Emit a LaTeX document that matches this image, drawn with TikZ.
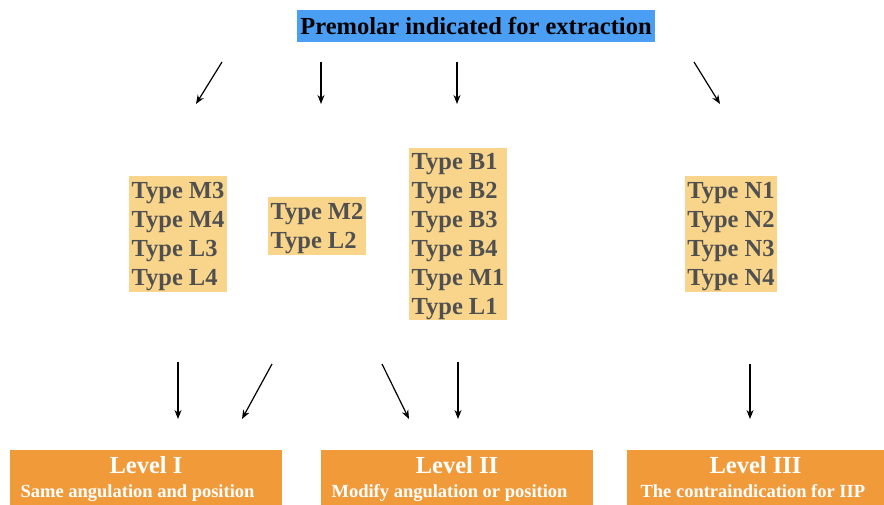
\documentclass[tikz,border=0pt]{standalone}
\usepackage{fontspec}
\setmainfont{Liberation Serif}
\usetikzlibrary{arrows.meta}
\definecolor{topblue}{HTML}{4A9FF5}
\definecolor{typefill}{HTML}{F8D58A}
\definecolor{typetext}{HTML}{505050}
\definecolor{levelfill}{HTML}{F09A3A}

\begin{document}
\begin{tikzpicture}[x=1pt,y=-1pt,->,>={Stealth[length=9pt,width=7pt]},line width=1.2pt,
  top node/.style={fill=topblue,inner sep=0pt,minimum width=358pt,minimum height=32pt,
    font=\fontsize{24.5}{28}\selectfont\bfseries},
  type node/.style={fill=typefill,inner sep=0pt,align=left,text=typetext,text depth=0pt,
    font=\fontsize{24.5}{29}\selectfont\bfseries},
  level node/.style={fill=levelfill,inner sep=0pt,minimum height=55pt},
  level text/.style={font=\fontsize{24.5}{26}\selectfont\bfseries,text=white,anchor=base,inner sep=0pt},
  sub text/.style={font=\fontsize{18.5}{20}\selectfont\bfseries,text=white,anchor=base west,inner sep=0pt}]

  \useasboundingbox (0,0) rectangle (884,505);

  \node[top node] (top) at (476,26) {Premolar indicated for extraction};

  \node[type node,minimum width=98pt,minimum height=116pt] (g1) at (178,234)
    {Type M3\\Type M4\\Type L3\\Type L4};
  \node[type node,minimum width=98pt,minimum height=58pt] (g2) at (317,226)
    {Type M2\\Type L2};
  \node[type node,minimum width=98pt,minimum height=172pt] (g3) at (458,234)
    {Type B1\\Type B2\\Type B3\\Type B4\\Type M1\\Type L1};
  \node[type node,minimum width=92pt,minimum height=116pt] (g4) at (731,234)
    {Type N1\\Type N2\\Type N3\\Type N4};

  \node[level node,minimum width=272pt] (lv1) at (146,477.5) {};
  \node[level node,minimum width=272pt] (lv2) at (457,477.5) {};
  \node[level node,minimum width=257pt] (lv3) at (755.5,477.5) {};
  \node[level text] (lv1t) at (146,473) {Level I};
  \node[level text] (lv2t) at (457,473) {Level II};
  \node[level text] (lv3t) at (755.5,473) {Level III};
  \node[sub text] (lv1s) at (20,497) {Same angulation and position};
  \node[sub text] (lv2s) at (331,497) {Modify angulation or position};
  \node[sub text] (lv3s) at (640,497) {The contraindication for IIP};

  % arrows from the title
  \coordinate (a1s) at (222,62);  \coordinate (a1e) at (196,104);
  \coordinate (a2s) at (321,62);  \coordinate (a2e) at (321,104);
  \coordinate (a3s) at (457,62);  \coordinate (a3e) at (457,104);
  \coordinate (a4s) at (694,62);  \coordinate (a4e) at (720,104);
  \draw (a1s) -- (a1e);
  \draw (a2s) -- (a2e);
  \draw (a3s) -- (a3e);
  \draw (a4s) -- (a4e);

  % arrows to the levels
  \coordinate (b1s) at (178,362); \coordinate (b1e) at (178,419);
  \coordinate (b2s) at (272,364); \coordinate (b2e) at (242,419);
  \coordinate (b3s) at (382,364); \coordinate (b3e) at (409,419);
  \coordinate (b4s) at (458,362); \coordinate (b4e) at (458,419);
  \coordinate (b5s) at (750,364); \coordinate (b5e) at (750,419);
  \draw (b1s) -- (b1e);
  \draw (b2s) -- (b2e);
  \draw (b3s) -- (b3e);
  \draw (b4s) -- (b4e);
  \draw (b5s) -- (b5e);

\end{tikzpicture}
\end{document}
